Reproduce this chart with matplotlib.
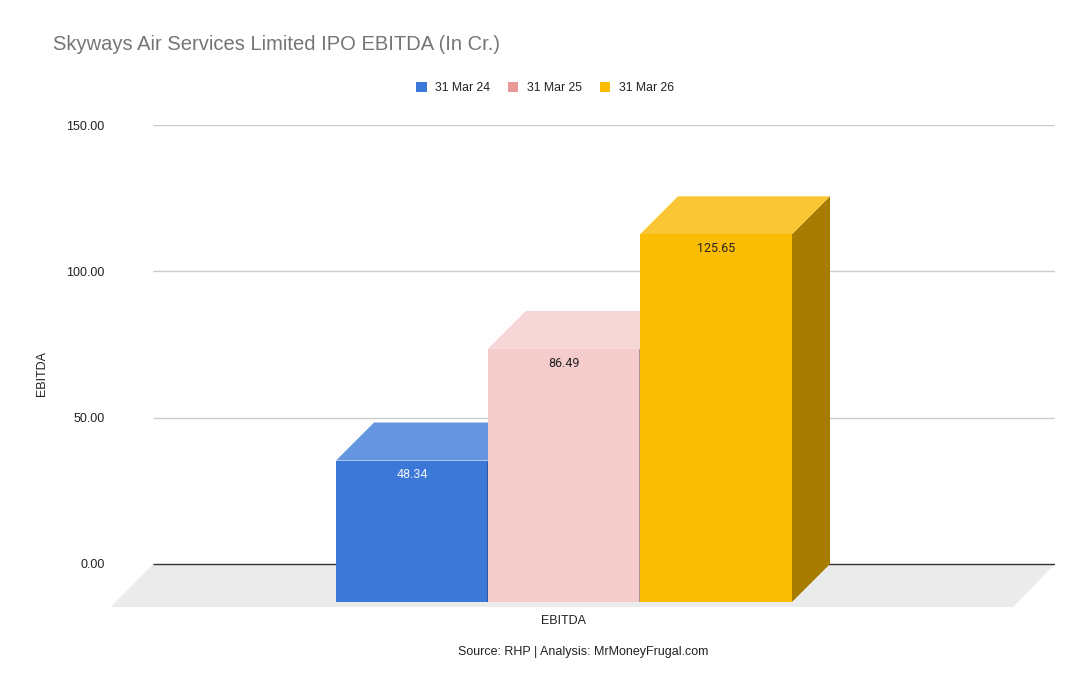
import matplotlib
matplotlib.use("Agg")
import matplotlib.pyplot as plt
from matplotlib.patches import Polygon, Rectangle

# ---- data ----
categories = ["EBITDA"]
series = ["31 Mar 24", "31 Mar 25", "31 Mar 26"]
values = [48.34, 86.49, 125.65]
yticks = [0, 50, 100, 150]
ytick_labels = ["0.00", "50.00", "100.00", "150.00"]
title = "Skyways Air Services Limited IPO EBITDA (In Cr.)"
source = "Source: RHP | Analysis: MrMoneyFrugal.com"

# ---- styles ----
front_colors = ["#3c78d8", "#f4cccc", "#fbbc04"]
legend_colors = ["#3c78d8", "#ea9999", "#fbbc04"]
top_colors = ["#6594e0", "#f6d6d6", "#fbc634"]
side_colors = ["#2b559a", "#a08a8a", "#a67c00"]
label_colors = ["#eef3fc", "#222222", "#222222"]

W, H = 1090, 694
fig = plt.figure(figsize=(W / 100, H / 100), dpi=100)
fig.patch.set_facecolor("white")


def fx(px):
    return px / W


def fy(py):
    return 1 - py / H


ax_left, ax_right, ax_top, ax_bottom = 153, 1055, 125, 607.9
ax = fig.add_axes([fx(ax_left), fy(ax_bottom), fx(ax_right) - fx(ax_left), fy(ax_top) - fy(ax_bottom)])
ymin, ymax = -15, 150
ax.set_xlim(-0.5, 0.5)
ax.set_ylim(ymin, ymax)
ax.set_facecolor("none")
for s in ax.spines.values():
    s.set_visible(False)

px_per_x = (ax_right - ax_left) / 1.0
px_per_y = (ax_bottom - ax_top) / (ymax - ymin)

# depth offsets (front face shifted down-left)
depth_dx = -38 / px_per_x
depth_dy = -38 / px_per_y
floor_dx = -42 / px_per_x
floor_dy = -43 / px_per_y

# floor
floor = Polygon([(-0.5, 0), (0.5, 0), (0.5 + floor_dx, floor_dy), (-0.5 + floor_dx, floor_dy)],
                closed=True, facecolor="#ebebeb", edgecolor="none", zorder=0.2, clip_on=False)
ax.add_patch(floor)

# gridlines
for t in yticks:
    if t == 0:
        ax.plot([-0.5, 0.5], [0, 0], color="#333333", lw=1, zorder=0.5, solid_capstyle="butt")
    else:
        ax.plot([-0.5, 0.5], [t, t], color="#cccccc", lw=1, zorder=0.5, solid_capstyle="butt")

bar_w = 152 / px_per_x
start = -1.5 * bar_w - 2 / px_per_x

z = 2
for i, v in enumerate(values):
    bx = start + i * bar_w
    fxl = bx + depth_dx
    # side face
    side = Polygon([(fxl + bar_w, depth_dy), (bx + bar_w, 0), (bx + bar_w, v), (fxl + bar_w, v + depth_dy)],
                   closed=True, facecolor=side_colors[i], edgecolor="none", zorder=z)
    ax.add_patch(side)
    # top face
    top = Polygon([(fxl, v + depth_dy), (fxl + bar_w, v + depth_dy), (bx + bar_w, v), (bx, v)],
                  closed=True, facecolor=top_colors[i], edgecolor="none", zorder=z + 0.1)
    ax.add_patch(top)
    # front face
    front = Rectangle((fxl, depth_dy), bar_w, v, facecolor=front_colors[i], edgecolor="none", zorder=z + 0.2)
    ax.add_patch(front)
    if i < len(values) - 1:
        ax.plot([fxl + bar_w, fxl + bar_w], [depth_dy, v + depth_dy], color=side_colors[i], lw=1.2,
                zorder=z + 0.25, solid_capstyle="butt")
    ax.annotate(f"{v:.2f}", xy=(fxl + bar_w / 2, v + depth_dy), xytext=(0, -10.3), textcoords="offset points",
                ha="center", va="center", fontsize=9, color=label_colors[i], family="Roboto", zorder=z + 0.3)
    z += 1

# axes ticks
ax.set_yticks(yticks)
ax.set_yticklabels(ytick_labels, fontsize=9, color="#222222", family="Liberation Sans")
ax.tick_params(axis="y", length=0, pad=35)
ax.set_xticks([depth_dx + start + 1.5 * bar_w])
ax.set_xticklabels(categories, fontsize=9, color="#222222", family="Liberation Sans")
ax.tick_params(axis="x", length=0, pad=5)

ax.set_ylabel("EBITDA", fontsize=9, color="#222222", family="Liberation Sans")
ax.yaxis.set_label_coords((48 - ax_left) / (ax_right - ax_left), (ax_bottom - 373) / (ax_bottom - ax_top))

# title
fig.text(fx(53), fy(44), title, ha="left", va="center", fontsize=14.5, color="#757575", family="Liberation Sans")

# legend
handles = [Rectangle((0, 0), 1, 1, facecolor=c, edgecolor="none") for c in legend_colors]
leg = fig.legend(handles, series, loc="center", bbox_to_anchor=(fx(545), fy(88)), ncol=3, frameon=False,
                 handlelength=0.85, handleheight=0.85, handletextpad=0.7, columnspacing=1.45,
                 prop={"family": "Liberation Sans", "size": 8.8})
for t in leg.get_texts():
    t.set_color("#222222")

# source
fig.text(fx(583), fy(652), source, ha="center", va="center", fontsize=9, color="#222222", family="Liberation Sans")

fig.savefig("out.png", dpi=100, facecolor="white")
